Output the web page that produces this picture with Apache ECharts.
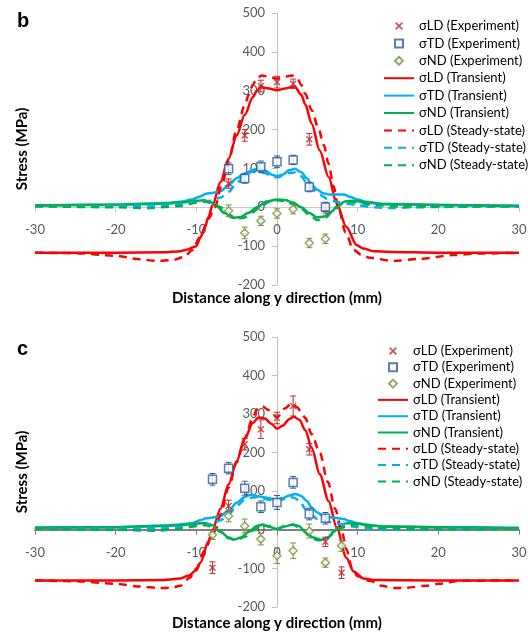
<!DOCTYPE html>
<html>
<head>
<meta charset="utf-8">
<script src="https://cdn.jsdelivr.net/npm/echarts@6.0.0/dist/echarts.min.js"></script>
<style>
  html, body { margin: 0; padding: 0; background: #fff; }
  #chart { width: 528px; height: 633px; }
</style>
</head>
<body>
<div id="chart"></div>
<script>
// ---- panel b: experiment (x positions shared) ----
const bExpX = [-6, -4, -2, 0, 2, 4, 6];
const bLdExp = [61, 185, 312, 322, 318, 175, -3];
const bLdErr = [12, 15, 15, 15, 12, 15, 12];
const bTdExp = [99, 74, 104, 117, 122, 52, 1];
const bTdErr = [15, 12, 15, 15, 12, 12, 12];
const bNdExp = [-9, -66, -35, -16, -5, -92, -81];
const bNdErr = [15, 15, 12, 12, 12, 12, 12];

// ---- panel b: transient ----
const bLdTrX = [-30, -20, -14, -12, -11.2, -10, -9.5, -9, -8.5, -8, -7, -6, -5, -4, -3, -2.5, -2, -1, 0, 1, 2.2, 3, 3.5, 4.3, 5.3, 6.4, 7.4, 8.6, 9.9, 10.7, 12, 14, 20, 30];
const bLdTrY = [-117, -117, -116, -113, -109, -100, -78, -55, -25, 5, 65, 125, 185, 238, 283, 300, 309, 306, 301, 306, 311, 290, 265, 215, 146, 78, 10, -51, -98, -106, -113, -115, -117, -117];
const bTdTrX = [-30, -20, -14, -12, -10.5, -9.5, -8.8, -8, -7, -6, -5, -4, -3, -2.3, -1.5, -0.5, 0, 0.7, 1.5, 2.2, 3, 3.7, 4.3, 5, 5.7, 6.5, 7.4, 8.3, 9, 10, 11, 13, 20, 30];
const bTdTrY = [4, 7, 11, 14, 20, 28, 35, 37, 42, 57, 75, 87, 96, 100, 94, 83, 80, 84, 95, 99, 90, 75, 58, 45, 36, 33, 33, 33, 27, 20, 14, 9, 6, 3];
const bNdTrX = [-30, -20, -14, -12, -10, -9, -8.3, -7.5, -6.5, -5.5, -4.5, -3.5, -2.5, -1.3, 0, 1, 2, 3, 4, 5, 5.8, 6.7, 7.5, 8.4, 9.5, 11, 13, 20, 30];
const bNdTrY = [5, 6, 9, 12, 17, 18, 14, 3, -15, -27, -25, -14, 0, 15, 20, 19, 12, 0, -15, -26, -24, -12, 3, 15, 17, 13, 8, 6, 4];

// ---- panel b: steady-state ----
const bLdSsX = [-30, -25, -20, -17, -15, -13, -11.5, -10.5, -9.5, -8.5, -7.7, -6.8, -6, -5, -4, -3.5, -3, -2.5, -1.9, -1, 0, 1, 1.85, 2.5, 3, 3.5, 4.3, 5.1, 5.8, 6.4, 7, 7.6, 8.5, 9.5, 10.5, 11.5, 14.4, 17.7, 21.8, 25, 30];
const bLdSsY = [-117, -118, -125, -134, -138, -136, -128, -110, -75, -30, 0, 60, 120, 200, 262, 290, 315, 332, 339, 336, 331, 336, 339, 333, 315, 292, 250, 206, 160, 112, 55, 0, -65, -110, -123, -130, -138, -133, -123, -119, -117];
const bTdSsX = [-30, -20, -14, -12, -10, -9, -8, -7, -6, -5, -4, -3, -2.5, -1.5, -0.5, 0, 0.5, 1.5, 2.3, 3, 3.7, 4.5, 5.3, 6.2, 7.2, 8.5, 10, 12, 14, 17, 20, 30];
const bTdSsY = [2, 3, 5, 8, 12, 15, 18, 25, 40, 62, 82, 93, 95, 88, 78, 77, 80, 88, 90, 80, 62, 45, 32, 22, 15, 10, 5, 0, -2, 0, 1, 2];
const bNdSsX = [-30, -20, -16, -12, -10, -9, -8, -7, -6, -5, -4, -3, -2, -1, 0, 1, 2, 3, 4, 5, 6, 7, 8, 9, 10, 12, 15, 20, 30];
const bNdSsY = [3, 0, -2, 3, 12, 15, 10, 0, -18, -30, -26, -12, 2, 14, 18, 16, 8, -3, -20, -33, -27, -8, 8, 14, 12, 6, 2, 2, 3];

// ---- panel c: experiment ----
const cExpX = [-8, -6, -4, -2, 0, 2, 4, 6, 8];
const cLdExp = [-98, 62, 222, 261, 290, 321, 209, -31, -111];
const cLdErr = [15, 15, 15, 24, 15, 26, 15, 12, 15];
const cTdExpX = [-8, -6, -4, -2, 0, 2, 4, 6];
const cTdExp = [131, 160, 108, 60, 71, 123, 41, 30];
const cTdErr = [15, 15, 18, 15, 18, 15, 15, 15];
const cNdExp = [-13, 36, 10, -24, -67, -54, -3, -85, -41];
const cNdErr = [12, 15, 18, 15, 20, 20, 18, 12, 15];

// ---- panel c: transient ----
const cLdTrX = [-30, -20, -14, -12, -11, -10, -9.5, -8.5, -8, -7, -6, -5, -4, -3, -2.3, -1.5, -0.7, 0, 0.7, 1.5, 2.1, 2.8, 3.5, 4.3, 5.3, 6.4, 7.4, 8.6, 9.5, 10.7, 12, 20, 30];
const cLdTrY = [-131, -131, -130, -126, -119, -105, -85, -30, 0, 55, 118, 178, 236, 277, 291, 289, 275, 262, 270, 287, 293, 285, 258, 213, 144, 75, 6, -72, -108, -126, -130, -131, -131];
const cTdTrX = [-30, -20, -14, -12, -10.5, -9.5, -8.8, -7.9, -7, -6, -5, -4, -3.3, -2.5, -1.5, -0.5, 0, 0.7, 1.5, 2.3, 3, 3.7, 4.3, 5, 5.7, 6.5, 7.4, 8.3, 9, 10, 11.5, 13, 20, 30];
const cTdTrY = [5, 7, 11, 14, 18, 25, 30, 32, 36, 50, 70, 85, 91, 88, 84, 80, 79, 82, 89, 93, 88, 75, 58, 45, 36, 33, 31, 28, 23, 17, 12, 9, 7, 5];
const cNdTrX = [-30, -20, -14, -12, -10, -9, -8, -7, -6, -5.3, -4.5, -3.5, -2.5, -1.8, -1, 0, 1, 2, 2.7, 3.5, 4.5, 5.5, 6.3, 7, 7.8, 8.6, 9.5, 11, 13, 20, 30];
const cNdTrY = [6, 7, 10, 12, 16, 18, 12, -5, -20, -25, -20, -5, 10, 14, 8, 2, 9, 14, 10, -5, -20, -26, -20, -5, 10, 17, 17, 13, 9, 7, 5];

// ---- panel c: steady-state ----
const cLdSsX = [-30, -25, -20, -17, -14.5, -13, -12, -10.8, -10, -9, -8, -7.6, -7, -6, -5, -4, -3, -2.5, -1.9, -1, 0, 1, 1.8, 2.5, 3, 3.5, 4.3, 5.3, 6.3, 7.2, 8, 8.6, 9.3, 10, 11.5, 13, 14.4, 16, 18.5, 20, 22.7, 30];
const cLdSsY = [-131, -133, -140, -147, -151, -150, -145, -124, -100, -55, -12, 0, 40, 110, 175, 238, 290, 312, 321, 310, 292, 315, 328, 318, 305, 290, 248, 200, 125, 55, 0, -50, -100, -120, -132, -145, -151, -150, -145, -140, -132, -131];
const cTdSsX = [-30, -20, -14, -12, -10, -9, -8, -7, -6, -5, -4, -3, -2.3, -1.5, -0.5, 0, 0.5, 1.3, 2, 2.8, 3.5, 4.2, 5, 6, 7, 8.5, 10, 12, 14, 17, 20, 30];
const cTdSsY = [3, 3, 5, 7, 10, 12, 16, 25, 40, 62, 78, 84, 85, 80, 76, 76, 78, 83, 84, 76, 55, 40, 28, 22, 18, 12, 7, 2, 0, 1, 2, 3];
const cNdSsX = [-30, -20, -15, -12, -10, -9, -8, -7, -6, -5, -4, -3, -2, -1, 0, 1, 2, 3, 4, 5, 6, 7, 8, 9, 10, 12, 15, 20, 30];
const cNdSsY = [3, 0, -2, 3, 10, 13, 8, -5, -22, -27, -18, -2, 12, 10, 3, 10, 13, 3, -15, -27, -25, -10, 5, 13, 12, 6, 2, 2, 3];

const legendNames = [
  'σLD (Experiment)', 'σTD (Experiment)', 'σND (Experiment)',
  'σLD (Transient)', 'σTD (Transient)', 'σND (Transient)',
  'σLD (Steady-state)', 'σTD (Steady-state)', 'σND (Steady-state)'
];

const RED = '#ff0000', BLUE = '#00b0f0', GREEN = '#00b050';
const LD_MARK = '#c0282d', TD_MARK = '#2e5c9a', ND_MARK = '#77933c';
const CROSS = 'path://M1.5,0L5,3.5L8.5,0L10,1.5L6.5,5L10,8.5L8.5,10L5,6.5L1.5,10L0,8.5L3.5,5L0,1.5Z';
const SQUARE = 'path://M0,0L10,0L10,10L0,10Z';
const DIAMOND = 'path://M5,0L10,5L5,10L0,5Z';

// layout of both panels (axis lines sit on x=0 / y=0, so shift them into the grid)
const GRID_LEFT = 35, GRID_W = 484;
const grids = [
  { top: 13, height: 272 },
  { top: 337, height: 270 }
];
const X_MIN = -30, X_MAX = 30, Y_MIN = -200, Y_MAX = 500;

const zip = (xs, ys) => xs.map((x, i) => [x, ys[i]]);

function curve(name, xs, ys, color, dashed, gi) {
  return {
    name, type: 'line', xAxisIndex: gi, yAxisIndex: gi,
    data: zip(xs, ys),
    symbol: 'none', smooth: 0.3, smoothMonotone: 'x',
    lineStyle: { color, width: 2.5, type: dashed ? [8, 6] : 'solid' },
    itemStyle: { color }, z: 3
  };
}

function marks(name, xs, ys, symbol, color, fill, gi) {
  const isCross = symbol === CROSS;
  return {
    name, type: 'scatter', xAxisIndex: gi, yAxisIndex: gi,
    data: zip(xs, ys), symbol, symbolSize: isCross ? 7 : 8,
    itemStyle: isCross ? { color } : { color: fill, borderColor: color, borderWidth: 1.5 },
    z: 5
  };
}

function errBars(id, xs, ys, errs, color, gi) {
  return {
    name: id, type: 'custom', xAxisIndex: gi, yAxisIndex: gi,
    data: xs.map((x, i) => [x, ys[i] - errs[i], ys[i] + errs[i]]),
    encode: { x: 0, y: [1, 2] },
    renderItem: (params, api) => {
      const lo = api.coord([api.value(0), api.value(1)]);
      const hi = api.coord([api.value(0), api.value(2)]);
      const w = 3;
      const style = { stroke: color, lineWidth: 1 };
      return {
        type: 'group',
        children: [
          { type: 'line', shape: { x1: lo[0], y1: lo[1], x2: hi[0], y2: hi[1] }, style },
          { type: 'line', shape: { x1: lo[0] - w, y1: lo[1], x2: lo[0] + w, y2: lo[1] }, style },
          { type: 'line', shape: { x1: hi[0] - w, y1: hi[1], x2: hi[0] + w, y2: hi[1] }, style }
        ]
      };
    },
    z: 4
  };
}

function xAxisFor(gi, lineColor, lineWidth, nameGap) {
  const g = grids[gi];
  // distance from grid bottom up to the y = 0 line
  const zeroUp = g.height * (0 - Y_MIN) / (Y_MAX - Y_MIN);
  return {
    type: 'value', gridIndex: gi, min: X_MIN, max: X_MAX, interval: 10,
    position: 'bottom', offset: -zeroUp,
    name: 'Distance along y direction (mm)', nameLocation: 'middle', nameGap,
    nameMoveOverlap: false,
    nameTextStyle: { fontSize: 15, fontWeight: 'bold', color: '#000' },
    axisLine: { onZero: false, lineStyle: { color: lineColor, width: lineWidth } },
    axisTick: { show: true, length: 5, lineStyle: { color: lineColor } },
    axisLabel: { color: '#595959', fontSize: 13, margin: 16 },
    splitLine: { show: false }
  };
}

function yAxisFor(gi) {
  const zeroRight = GRID_W * (0 - X_MIN) / (X_MAX - X_MIN);
  return {
    type: 'value', gridIndex: gi, min: Y_MIN, max: Y_MAX, interval: 100,
    position: 'left', offset: -zeroRight,
    name: 'Stress (MPa)', nameLocation: 'middle', nameGap: 247, nameRotate: 90,
    nameMoveOverlap: false,
    nameTextStyle: { fontSize: 15, fontWeight: 'bold', color: '#000' },
    axisLine: { show: true, onZero: false, lineStyle: { color: '#bfbfbf' } },
    axisTick: { show: true, length: 5, lineStyle: { color: '#bfbfbf' } },
    axisLabel: { color: '#595959', fontSize: 13, margin: 12 },
    splitLine: { show: false }
  };
}

function panelSeries(gi, d) {
  return [
    errBars('errLD' + gi, d.expX, d.ld, d.ldErr, LD_MARK, gi),
    errBars('errTD' + gi, d.tdX, d.td, d.tdErr, TD_MARK, gi),
    errBars('errND' + gi, d.expX, d.nd, d.ndErr, ND_MARK, gi),
    marks(legendNames[0], d.expX, d.ld, CROSS, LD_MARK, LD_MARK, gi),
    marks(legendNames[1], d.tdX, d.td, SQUARE, TD_MARK, '#ffffff', gi),
    marks(legendNames[2], d.expX, d.nd, DIAMOND, ND_MARK, '#ffffff', gi),
    curve(legendNames[3], d.ldTrX, d.ldTrY, RED, false, gi),
    curve(legendNames[4], d.tdTrX, d.tdTrY, BLUE, false, gi),
    curve(legendNames[5], d.ndTrX, d.ndTrY, GREEN, false, gi),
    curve(legendNames[6], d.ldSsX, d.ldSsY, RED, true, gi),
    curve(legendNames[7], d.tdSsX, d.tdSsY, BLUE, true, gi),
    curve(legendNames[8], d.ndSsX, d.ndSsY, GREEN, true, gi)
  ];
}

const seriesB = panelSeries(0, {
  expX: bExpX, tdX: bExpX, ld: bLdExp, ldErr: bLdErr, td: bTdExp, tdErr: bTdErr, nd: bNdExp, ndErr: bNdErr,
  ldTrX: bLdTrX, ldTrY: bLdTrY, tdTrX: bTdTrX, tdTrY: bTdTrY, ndTrX: bNdTrX, ndTrY: bNdTrY,
  ldSsX: bLdSsX, ldSsY: bLdSsY, tdSsX: bTdSsX, tdSsY: bTdSsY, ndSsX: bNdSsX, ndSsY: bNdSsY
});
const seriesC = panelSeries(1, {
  expX: cExpX, tdX: cTdExpX, ld: cLdExp, ldErr: cLdErr, td: cTdExp, tdErr: cTdErr, nd: cNdExp, ndErr: cNdErr,
  ldTrX: cLdTrX, ldTrY: cLdTrY, tdTrX: cTdTrX, tdTrY: cTdTrY, ndTrX: cNdTrX, ndTrY: cNdTrY,
  ldSsX: cLdSsX, ldSsY: cLdSsY, tdSsX: cTdSsX, tdSsY: cTdSsY, ndSsX: cNdSsX, ndSsY: cNdSsY
});

// line entries: hide the dot ECharts puts in the middle of a line legend icon
const legendData = legendNames.map((n, i) => i < 3 ? { name: n } : { name: n, itemStyle: { opacity: 0 } });

const legendBase = {
  data: legendData, orient: 'vertical', itemWidth: 30, itemHeight: 8,
  textStyle: { fontSize: 13, color: '#000', lineHeight: 14 },
  selectedMode: false
};

const chart = echarts.init(document.getElementById('chart'));
chart.setOption({
  animation: false,
  backgroundColor: '#fff',
  textStyle: { fontFamily: 'Lato' },
  title: [
    { text: 'b', left: 12, top: 6, textStyle: { fontSize: 20, fontWeight: 'bold', color: '#000', fontFamily: 'Liberation Sans' } },
    { text: 'c', left: 12, top: 334, textStyle: { fontSize: 20, fontWeight: 'bold', color: '#000', fontFamily: 'Liberation Sans' } }
  ],
  legend: [
    Object.assign({}, legendBase, { left: 378, top: 14, itemGap: 3.4 }),
    Object.assign({}, legendBase, { left: 372, top: 339, itemGap: 2.3 })
  ],
  grid: grids.map(g => ({
    left: GRID_LEFT, width: GRID_W, top: g.top, height: g.height,
    containLabel: false, outerBoundsMode: 'none'
  })),
  xAxis: [xAxisFor(0, '#c8c8c8', 1, 83), xAxisFor(1, '#808080', 2, 86)],
  yAxis: [yAxisFor(0), yAxisFor(1)],
  series: seriesB.concat(seriesC)
});
</script>
</body>
</html>
